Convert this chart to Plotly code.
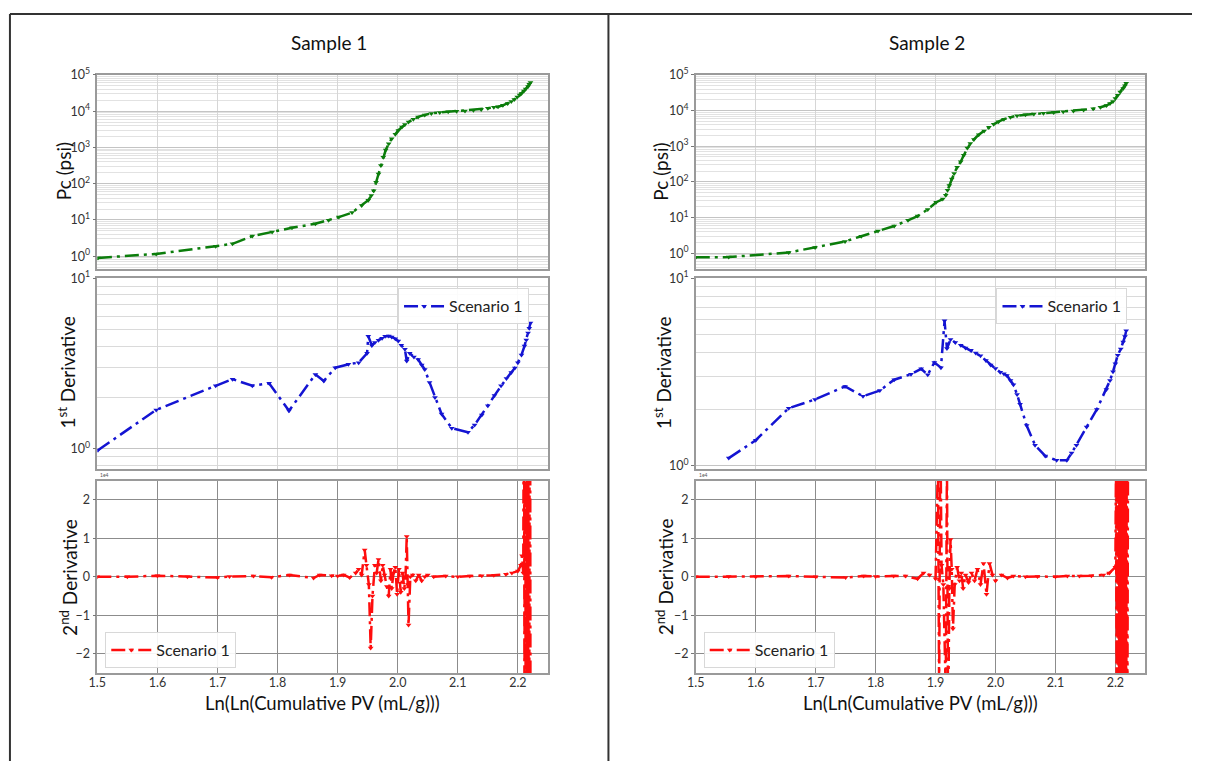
import plotly.graph_objects as go

# ---------------- data ----------------
s1_x_pc = [1.501, 1.598, 1.697, 1.725, 1.758, 1.791, 1.824, 1.863, 1.885, 1.902, 1.924, 1.940, 1.951, 1.956,
           1.960, 1.964, 1.968, 1.972, 1.976, 1.980, 1.985, 1.990, 1.996, 2.001, 2.007, 2.012, 2.018, 2.026,
           2.034, 2.045, 2.056, 2.070, 2.084, 2.098, 2.112, 2.126, 2.139, 2.150, 2.160, 2.167, 2.175, 2.183,
           2.189, 2.194, 2.199, 2.203, 2.206, 2.210, 2.213, 2.217, 2.219, 2.221]
s1_pc = [0.9, 1.16, 1.9, 2.2, 3.6, 4.7, 6.1, 7.9, 9.8, 12, 16, 25, 35, 47,
         64, 110, 185, 320, 540, 850, 1260, 1750, 2300, 2950, 3650, 4300, 5000, 6000,
         6950, 7900, 8700, 9200, 9600, 9900, 10200, 10700, 11200, 12000, 12800, 13200, 14500, 16300,
         18500, 21000, 24500, 28000, 31000, 36000, 41000, 48000, 55000, 62000]

s1_x_d1 = [1.501, 1.598, 1.697, 1.725, 1.758, 1.786, 1.819, 1.863, 1.877, 1.896, 1.918, 1.935, 1.949, 1.951,
           1.957, 1.962, 1.968, 1.974, 1.979, 1.985, 1.990, 1.996, 2.001, 2.006, 2.012, 2.015, 2.020, 2.027,
           2.034, 2.040, 2.045, 2.053, 2.062, 2.073, 2.090, 2.117, 2.128, 2.140, 2.150, 2.161, 2.172, 2.181,
           2.189, 2.195, 2.200, 2.206, 2.211, 2.214, 2.217, 2.219, 2.221]
s1_d1 = [0.98, 1.69, 2.34, 2.56, 2.34, 2.42, 1.67, 2.73, 2.50, 2.99, 3.13, 3.20, 3.63, 4.57,
         4.04, 4.20, 4.33, 4.45, 4.57, 4.58, 4.53, 4.42, 4.28, 4.05, 3.83, 3.27, 3.63, 3.45,
         3.34, 3.10, 2.92, 2.45, 2.0, 1.60, 1.32, 1.25, 1.38, 1.58, 1.79, 2.05, 2.34, 2.58,
         2.80, 2.98, 3.20, 3.55, 4.0, 4.35, 4.78, 5.1, 5.47]

s1_x_d2 = [1.50, 1.55, 1.60, 1.65, 1.70, 1.72, 1.76, 1.79, 1.82, 1.86, 1.87, 1.89, 1.90, 1.91, 1.92, 1.93,
           1.935, 1.94, 1.945, 1.948, 1.952, 1.955, 1.958, 1.962, 1.965, 1.968, 1.972, 1.975, 1.978, 1.982,
           1.985, 1.988, 1.990, 1.993, 1.996, 1.999, 2.002, 2.005, 2.008, 2.011, 2.013, 2.015, 2.017, 2.018,
           2.021, 2.025, 2.030, 2.035, 2.040, 2.045, 2.050, 2.060, 2.080, 2.100, 2.120, 2.140, 2.160, 2.180,
           2.190, 2.200, 2.205, 2.207, 2.209, 2.2095, 2.210, 2.2105, 2.211, 2.2115, 2.212, 2.2125, 2.213,
           2.2135, 2.214, 2.2145, 2.215, 2.2155, 2.216, 2.2165, 2.217, 2.2175, 2.218, 2.2185, 2.219, 2.2195,
           2.220, 2.2205, 2.221]
s1_d2 = [0.0, 0.0, 0.03, 0.0, -0.02, 0.01, 0.02, -0.01, 0.05, -0.03, 0.05, 0.03, 0.02, 0.05, -0.02, 0.1,
         0.2, 0.05, 0.7, 0.3, -0.2, -1.85, -0.5, 0.3, 0.1, 0.45, -0.1, 0.3, 0.05, -0.25,
         -0.5, 0.2, -0.3, 0.1, 0.25, -0.45, 0.2, -0.4, 0.1, -0.3, 0.0, 1.05, -0.2, -1.25,
         0.0, 0.05, -0.1, 0.05, -0.1, 0.0, 0.05, 0.0, 0.02, 0.0, 0.02, 0.03, 0.04, 0.07,
         0.1, 0.15, 0.3, 0.55, 0.1, 3.0, -3.0, 4.0, -4.0, 5.0, -5.0, 6.0, -6.0,
         5.0, -5.0, 6.0, -6.0, 5.0, -5.0, 4.0, -4.0, 5.0, -5.0, 4.0, -4.0, 3.0,
         -3.0, 4.0, -4.0]

s2_x_pc = [1.500, 1.555, 1.655, 1.699, 1.749, 1.776, 1.804, 1.831, 1.854, 1.870, 1.887, 1.901, 1.912, 1.917,
           1.920, 1.923, 1.927, 1.931, 1.936, 1.942, 1.947, 1.953, 1.958, 1.964, 1.972, 1.981, 1.989, 1.997,
           2.005, 2.014, 2.025, 2.036, 2.050, 2.064, 2.080, 2.097, 2.113, 2.130, 2.147, 2.163, 2.175, 2.185,
           2.191, 2.196, 2.200, 2.204, 2.208, 2.213, 2.216, 2.218]
s2_pc = [0.77, 0.78, 1.05, 1.45, 2.15, 3.0, 4.2, 5.8, 8.4, 11, 17, 27, 33, 42,
         58, 80, 120, 173, 260, 370, 560, 900, 1200, 1550, 2100, 2700, 3400, 4150,
         4900, 5750, 6500, 7200, 7650, 8000, 8400, 8900, 9300, 9800, 10400, 11200, 12400, 13900,
         15800, 18000, 22000, 27000, 33000, 41500, 50000, 58000]

s2_x_d1 = [1.555, 1.600, 1.655, 1.699, 1.749, 1.779, 1.807, 1.831, 1.859, 1.876, 1.887, 1.898, 1.909, 1.915,
           1.919, 1.925, 1.933, 1.942, 1.950, 1.959, 1.967, 1.975, 1.984, 1.992, 2.000, 2.008, 2.014, 2.019,
           2.025, 2.030, 2.036, 2.041, 2.052, 2.066, 2.083, 2.102, 2.119, 2.127, 2.135, 2.152, 2.169, 2.185,
           2.191, 2.196, 2.200, 2.204, 2.209, 2.213, 2.216, 2.218]
s2_d1 = [1.10, 1.37, 2.03, 2.26, 2.65, 2.35, 2.52, 2.88, 3.08, 3.29, 3.06, 3.56, 3.34, 5.93,
         4.22, 4.72, 4.55, 4.39, 4.25, 4.13, 4.0, 3.86, 3.65, 3.45, 3.30, 3.16, 3.10, 3.03,
         2.85, 2.71, 2.40, 2.13, 1.64, 1.29, 1.13, 1.07, 1.07, 1.17, 1.29, 1.61, 2.0, 2.55,
         2.85, 3.18, 3.50, 3.89, 4.20, 4.57, 4.90, 5.25]

s2_x_d2 = [1.50, 1.555, 1.60, 1.655, 1.70, 1.75, 1.78, 1.80, 1.83, 1.85, 1.87, 1.88, 1.89, 1.90, 1.904,
           1.906, 1.908, 1.910, 1.913, 1.917, 1.919, 1.921, 1.923, 1.925, 1.927, 1.929, 1.932, 1.936, 1.940,
           1.943, 1.946, 1.950, 1.955, 1.960, 1.965, 1.970, 1.975, 1.980, 1.985, 1.990, 1.995, 2.000, 2.010,
           2.020, 2.030, 2.050, 2.070, 2.100, 2.120, 2.140, 2.160, 2.180, 2.190, 2.200, 2.201, 2.202, 2.203,
           2.204, 2.205, 2.206, 2.207, 2.208, 2.209, 2.210, 2.211, 2.212, 2.213, 2.214, 2.215, 2.216, 2.217,
           2.218, 2.219, 2.220, 2.221]
s2_d2 = [0.0, 0.01, 0.0, 0.02, 0.0, -0.02, 0.02, 0.01, 0.02, 0.02, -0.05, 0.1, 0.05, -0.05, 3.0,
         -3.0, 4.0, 0.3, -0.2, -3.0, 3.0, -4.0, -0.3, 0.97, 0.2, -1.35, -0.2, 0.25, -0.1,
         0.1, -0.3, 0.05, -0.15, 0.1, -0.1, 0.2, -0.2, 0.35, -0.45, 0.35, 0.05, -0.1, 0.05,
         -0.03, 0.02, 0.0, 0.01, 0.0, 0.02, 0.02, 0.03, 0.05, 0.1, 0.25, 3.0, -3.0, 4.0,
         -4.0, 5.0, -5.0, 6.0, -6.0, 5.0, -5.0, 6.0, -6.0, 5.0, -5.0, 4.0, -4.0, 5.0,
         -5.0, 4.0, -4.0, 3.0]

pc_ticks = [1, 10, 100, 1000, 10000, 100000]
pc_ticktext = ["10<sup>0</sup>", "10<sup>1</sup>", "10<sup>2</sup>", "10<sup>3</sup>", "10<sup>4</sup>", "10<sup>5</sup>"]
d1_ticks = [1, 10]
d1_ticktext = ["10<sup>0</sup>", "10<sup>1</sup>"]
d2_ticks = [-2, -1, 0, 1, 2]
x_ticks = [1.5, 1.6, 1.7, 1.8, 1.9, 2.0, 2.1, 2.2]
sample_titles = ["Sample 1", "Sample 2"]
series_name = "Scenario 1"

# ---------------- styling ----------------
# page shows the figure offset by the body margin (8px) and slightly squeezed vertically
OFF = 8
KY = 0.9835
W, H = 1208 - 2 * OFF, 782 - 2 * OFF
FONT = "Lato"
GREEN = "#0b7d0b"
BLUE = "#1414d2"
RED = "#ff0d0d"
DASH = "14px,5px,3px,5px"
LW = 2.5
MS = 5

def px_x(p):
    return (p - OFF) / W

def px_y(p):
    return 1 - (p / KY - OFF) / H

xdom = [[px_x(97), px_x(551)], [px_x(700), px_x(1153)]]
ydom_top = [px_y(268), px_y(73)]
ydom_mid = [px_y(468), px_y(277)]
ydom_bot = [px_y(673), px_y(480)]

fig = go.Figure()

light_grid = "#d6d6d6"
frame = "#9a9a9a"
tickfont = dict(family=FONT, size=12.5, color="#333333")

datasets = [
    (s1_x_pc, s1_pc, s1_x_d1, s1_d1, s1_x_d2, s1_d2, [-0.36, 5], [-0.117, 1]),
    (s2_x_pc, s2_pc, s2_x_d1, s2_d1, s2_x_d2, s2_d2, [-0.45, 5], [-0.015, 1]),
]

legend_pos = [
    (("legend", px_x(400), px_y(287)), ("legend2", px_x(105), px_y(632))),
    (("legend3", px_x(1003), px_y(287)), ("legend4", px_x(708), px_y(632))),
]

layout_axes = {}
for c, (xpc, ypc, xd1, yd1, xd2, yd2, rtop, rmid) in enumerate(datasets):
    base = c * 3
    ax_ids = [base + 1, base + 2, base + 3]
    names = ["" if i == 1 else str(i) for i in ax_ids]
    fig.add_trace(go.Scatter(x=xpc, y=ypc, mode="lines+markers", showlegend=False,
                             line=dict(color=GREEN, width=LW, dash=DASH),
                             marker=dict(symbol="triangle-down", size=MS, color=GREEN),
                             xaxis="x" + names[0], yaxis="y" + names[0]))
    fig.add_trace(go.Scatter(x=xd1, y=yd1, mode="lines+markers", name=series_name,
                             legend=legend_pos[c][0][0],
                             line=dict(color=BLUE, width=LW, dash=DASH),
                             marker=dict(symbol="triangle-down", size=MS, color=BLUE),
                             xaxis="x" + names[1], yaxis="y" + names[1]))
    fig.add_trace(go.Scatter(x=xd2, y=yd2, mode="lines+markers", name=series_name,
                             legend=legend_pos[c][1][0],
                             line=dict(color=RED, width=LW, dash=DASH),
                             marker=dict(symbol="triangle-down", size=MS, color=RED),
                             xaxis="x" + names[2], yaxis="y" + names[2]))

    ydoms = [ydom_top, ydom_mid, ydom_bot]
    for k in range(3):
        xa = "xaxis" + names[k]
        ya = "yaxis" + names[k]
        is_bot = (k == 2)
        layout_axes[xa] = dict(
            domain=xdom[c], anchor="y" + names[k], range=[1.5, 2.25],
            tickvals=x_ticks, ticktext=["%.1f" % v for v in x_ticks],
            showticklabels=is_bot, tickfont=tickfont, ticklabelstandoff=-3,
            showgrid=True, gridcolor=("#8c8c8c" if is_bot else light_grid), gridwidth=1,
            showline=True, linecolor=frame, linewidth=1.5, mirror=True,
            ticks="", zeroline=False,
        )
        if k == 0:
            layout_axes[ya] = dict(
                domain=ydoms[k], anchor="x" + names[k], type="log", range=rtop,
                tickvals=pc_ticks, ticktext=pc_ticktext, tickfont=tickfont,
                showgrid=True, gridcolor="#c4c4c4", gridwidth=1,
                minor=dict(dtick="D1", showgrid=True, gridcolor="#e2e2e2", gridwidth=1, ticks=""),
                showline=True, linecolor=frame, linewidth=1.5, mirror=True,
                ticks="outside", ticklen=3, tickcolor="#777", zeroline=False,
            )
        elif k == 1:
            layout_axes[ya] = dict(
                domain=ydoms[k], anchor="x" + names[k], type="log", range=rmid,
                tickvals=d1_ticks, ticktext=d1_ticktext, tickfont=tickfont,
                showgrid=True, gridcolor="#c4c4c4", gridwidth=1,
                minor=dict(dtick="D1", showgrid=True, gridcolor="#dadada", gridwidth=1, ticks=""),
                showline=True, linecolor=frame, linewidth=1.5, mirror=True,
                ticks="outside", ticklen=3, tickcolor="#777", zeroline=False,
            )
        else:
            layout_axes[ya] = dict(
                domain=ydoms[k], anchor="x" + names[k], range=[-2.5, 2.5],
                tickvals=d2_ticks, ticktext=["\u22122", "\u22121", "0", "1", "2"], tickfont=tickfont,
                showgrid=True, gridcolor="#8c8c8c", gridwidth=1,
                showline=True, linecolor=frame, linewidth=1.5, mirror=True,
                ticks="outside", ticklen=3, tickcolor="#777", zeroline=False,
            )

legend_style = dict(bgcolor="rgba(255,255,255,0.9)", bordercolor="#d8d8d8", borderwidth=1,
                    font=dict(family=FONT, size=16, color="#222"), xanchor="left", yanchor="top",
                    itemwidth=40)
for c in range(2):
    for (lname, lx, ly) in legend_pos[c]:
        layout_axes[lname] = dict(x=lx, y=ly, **legend_style)

annotations = []
centers = [(97 + 550) / 2, (700 + 1152) / 2]
ylab_x = [[63, 66, 68], [665, 667, 668]]
for c in range(2):
    annotations.append(dict(text=sample_titles[c], x=px_x(centers[c] + 7), y=px_y(40), xref="paper", yref="paper",
                            xanchor="center", yanchor="middle", showarrow=False,
                            font=dict(family=FONT, size=19, color="#111")))
    annotations.append(dict(text="Ln(Ln(Cumulative PV (mL/g)))", x=px_x(centers[c]), y=px_y(703),
                            xref="paper", yref="paper", xanchor="center", yanchor="middle", showarrow=False,
                            font=dict(family=FONT, size=18.5, color="#111")))
    for j, (txt, yc) in enumerate([("Pc (psi)", 170), ("1<sup>st</sup> Derivative", 372),
                                   ("2<sup>nd</sup> Derivative", 577)]):
        annotations.append(dict(text=txt, x=px_x(ylab_x[c][j]), y=px_y(yc), xref="paper", yref="paper",
                                xanchor="center", yanchor="middle", showarrow=False, textangle=-90,
                                font=dict(family=FONT, size=19, color="#111")))
    annotations.append(dict(text="1e4", x=xdom[c][0] + 1 / W, y=px_y(479), xref="paper", yref="paper",
                            xanchor="left", yanchor="bottom", showarrow=False,
                            font=dict(family=FONT, size=5, color="#555")))

shapes = [
    dict(type="line", xref="paper", yref="paper", x0=0.0008, x1=1.0, y0=px_y(12), y1=px_y(12),
         line=dict(color="#333", width=2)),
    dict(type="line", xref="paper", yref="paper", x0=0.0008, x1=0.0008, y0=px_y(12), y1=0,
         line=dict(color="#333", width=2)),
    dict(type="line", xref="paper", yref="paper", x0=px_x(612), x1=px_x(612), y0=px_y(12), y1=0,
         line=dict(color="#333", width=2)),
]

fig.update_layout(
    width=W, height=H, margin=dict(l=0, r=0, t=0, b=0),
    paper_bgcolor="white", plot_bgcolor="white",
    font=dict(family=FONT, color="#222"),
    annotations=annotations, shapes=shapes,
    **layout_axes,
)

fig.write_html("out.html")
